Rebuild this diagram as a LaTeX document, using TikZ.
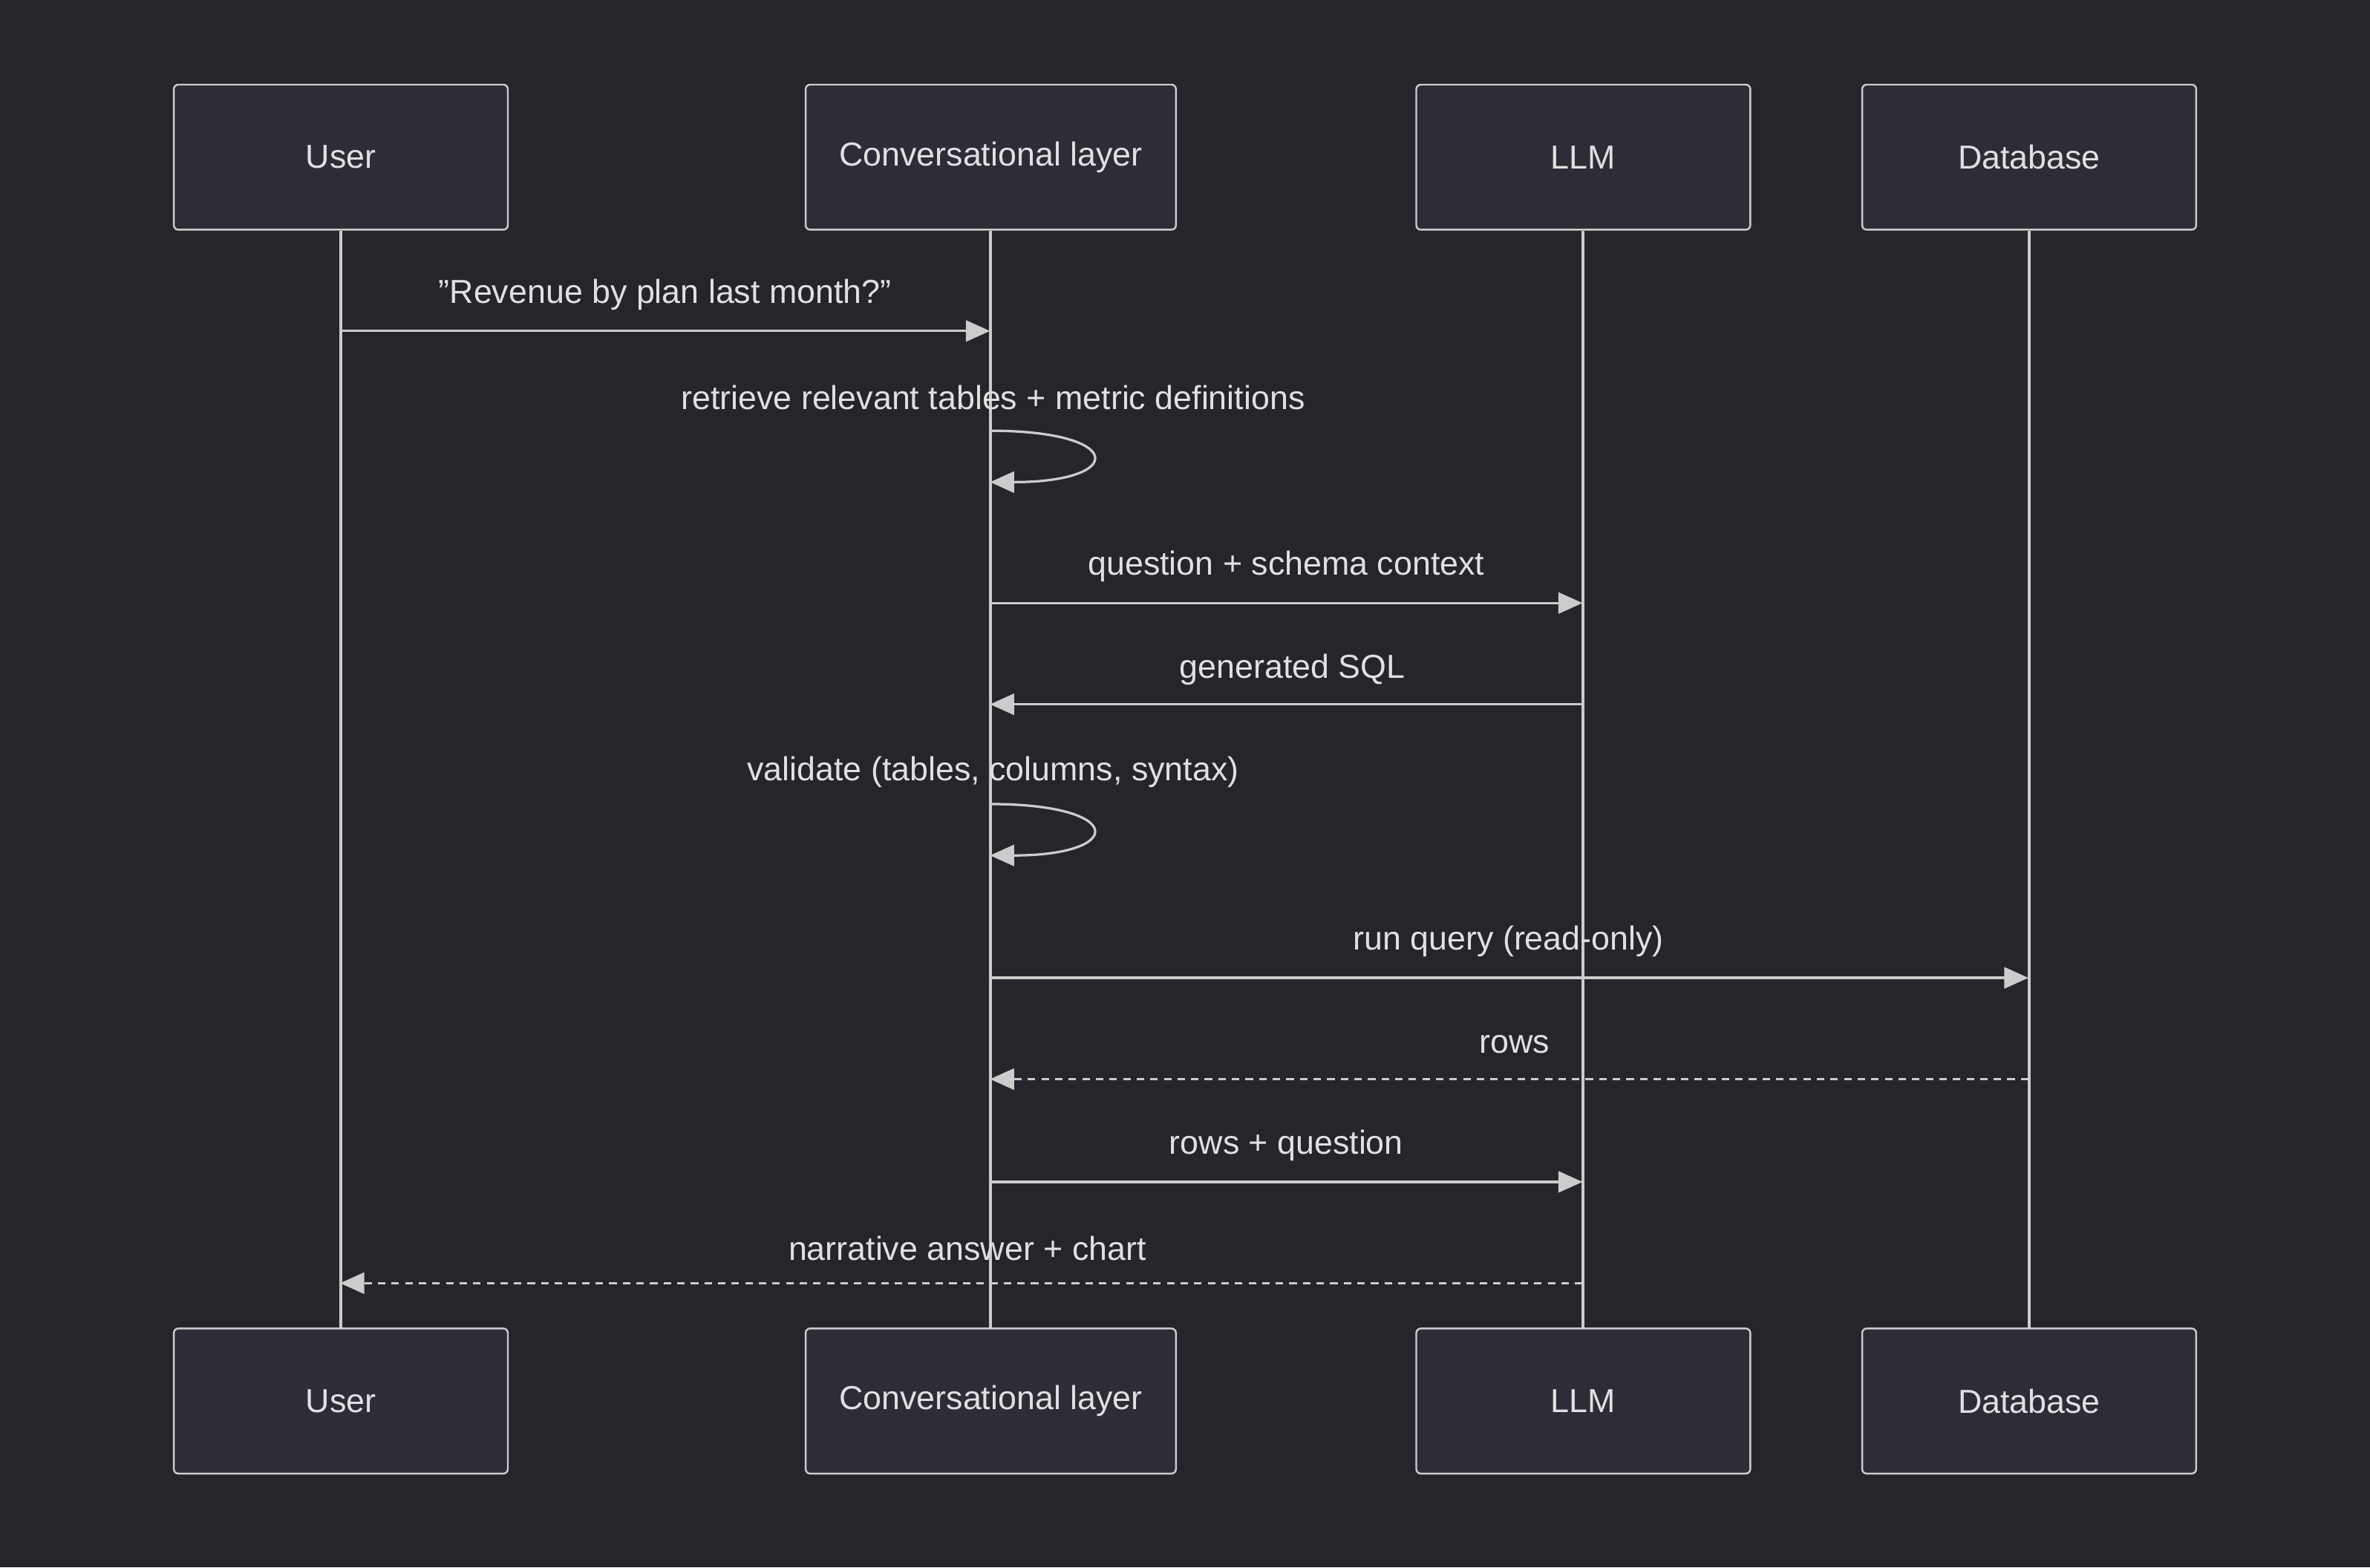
\documentclass[tikz,border=0pt]{standalone}
\usepackage{fontspec}
\setmainfont{Liberation Sans}
\usetikzlibrary{arrows.meta}
\definecolor{bg}{HTML}{25252B}
\definecolor{boxfill}{HTML}{2D2D38}
\definecolor{ln}{HTML}{CCCCCC}
\definecolor{tx}{HTML}{E0E0E0}
\begin{document}
\begin{tikzpicture}[x=0.5pt,y=-0.5pt,
  actor/.style={draw=ln,fill=boxfill,line width=0.6pt,rounded corners=1.5pt,minimum height=48pt,text=tx,font=\fontsize{11}{13}\selectfont},
  life/.style={draw=ln,line width=1pt},
  msg/.style={draw=ln,line width=0.8pt,-{Triangle[length=8pt,width=7pt]}},
  dmsg/.style={msg,dash pattern=on 2.5pt off 2pt},
  lbl/.style={text=tx,font=\fontsize{11}{13}\selectfont}]
\fill[bg] (0,0) rectangle (1568,1037);
\useasboundingbox (0,0) rectangle (1568,1037);
\foreach \n/\x/\w/\t in {u/225.5/110.5pt/User,c/655.5/122.5pt/Conversational layer,l/1047.5/110.5pt/LLM,d/1342.5/110.5pt/Database}{
  \node[actor,minimum width=\w] (\n t) at (\x,104) {\t};
  \node[actor,minimum width=\w] (\n b) at (\x,927) {\t};
  \draw[life] (\n t) -- (\n b);
}
\foreach \n/\x in {u/225,c/655,l/1047,d/1342}{
  \foreach \y in {219,285,319,399,466,532,566,647,714,782,849}{
    \coordinate (\n\y) at (\x,\y);
  }
}
\draw[msg] (u219) -- (c219);
\node[lbl] (m1) at (440,195) {"Revenue by plan last month?"};
\draw[msg] (c285) .. controls +(90,0) and +(90,0) .. (c319);
\node[lbl] (m2) at (657,263) {retrieve relevant tables + metric definitions};
\draw[msg] (c399) -- (l399);
\node[lbl] (m3) at (851,375) {question + schema context};
\draw[msg] (l466) -- (c466);
\node[lbl] (m4) at (855,443) {generated SQL};
\draw[msg] (c532) .. controls +(90,0) and +(90,0) .. (c566);
\node[lbl] (m5) at (657,511) {validate (tables, columns, syntax)};
\draw[msg] (c647) -- (d647);
\node[lbl] (m6) at (998,623) {run query (read-only)};
\draw[dmsg] (d714) -- (c714);
\node[lbl] (m7) at (1002,691) {rows};
\draw[msg] (c782) -- (l782);
\node[lbl] (m8) at (851,758) {rows + question};
\draw[dmsg] (l849) -- (u849);
\node[lbl] (m9) at (640,826) {narrative answer + chart};
\end{tikzpicture}
\end{document}
